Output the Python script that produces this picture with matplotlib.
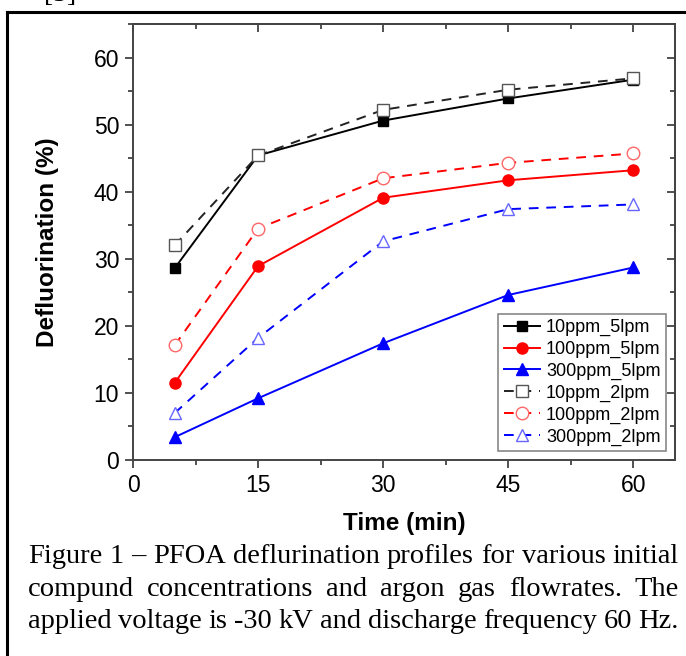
import matplotlib
matplotlib.use('Agg')
import matplotlib.pyplot as plt
from matplotlib.ticker import MultipleLocator
from matplotlib.lines import Line2D

# data
time = [5, 15, 30, 45, 60]
s10_5 = [28.6, 45.4, 50.6, 53.9, 56.7]
s100_5 = [11.5, 28.9, 39.1, 41.7, 43.2]
s300_5 = [3.4, 9.2, 17.4, 24.6, 28.7]
s10_2 = [32.0, 45.4, 52.2, 55.2, 56.9]
s100_2 = [17.1, 34.5, 42.0, 44.3, 45.7]
s300_2 = [7.0, 18.2, 32.6, 37.4, 38.1]
labels = ['10ppm_5lpm', '100ppm_5lpm', '300ppm_5lpm',
          '10ppm_2lpm', '100ppm_2lpm', '300ppm_2lpm']

caption = ['Figure 1 \u2013 PFOA deflurination profiles for various initial',
           'compund concentrations and argon gas flowrates. The',
           'applied voltage is -30 kV and discharge frequency 60 Hz.']

plt.rcParams['font.family'] = ['Liberation Sans', 'DejaVu Sans']

W, H = 686, 656
fig = plt.figure(figsize=(W / 100, H / 100), dpi=100)
ax = fig.add_axes([133 / W, 1 - 460 / H, (675 - 133) / W, (460 - 24) / H])

lw = 1.4
ms = 7
dash = (0, (5, 4))
ax.plot(time, s10_5, '-', color='black', marker='s', ms=ms, lw=lw, label=labels[0])
ax.plot(time, s100_5, '-', color='red', marker='o', ms=ms + 1, lw=lw, label=labels[1])
ax.plot(time, s300_5, '-', color='blue', marker='^', ms=ms + 1, lw=lw, label=labels[2])
ax.plot(time, s10_2, ls=dash, color='#222222', marker='s', ms=ms + 1, lw=lw,
        mfc='white', mec='#555555', mew=1.0, label=labels[3])
ax.plot(time, s100_2, ls=dash, color='red', marker='o', ms=ms + 2, lw=lw,
        mfc='white', mec='#ff6666', mew=1.0, label=labels[4])
ax.plot(time, s300_2, ls=dash, color='blue', marker='^', ms=ms + 2, lw=lw,
        mfc='white', mec='#6666ff', mew=1.0, label=labels[5])

ax.set_xlim(0, 65)
ax.set_ylim(0, 65)
ax.xaxis.set_major_locator(MultipleLocator(15))
ax.xaxis.set_minor_locator(MultipleLocator(7.5))
ax.yaxis.set_major_locator(MultipleLocator(10))
ax.yaxis.set_minor_locator(MultipleLocator(5))
ax.tick_params(which='both', direction='out', labelsize=16.5, width=1.2, color='#333333')
ax.tick_params(which='major', length=6, pad=4)
ax.tick_params(which='minor', length=3.5)
for sp in ax.spines.values():
    sp.set_linewidth(1.4)
    sp.set_color('#444444')

# mirrored ticks on top and right, pointing inward
top = ax.secondary_xaxis('top')
top.xaxis.set_major_locator(MultipleLocator(15))
top.xaxis.set_minor_locator(MultipleLocator(7.5))
top.tick_params(which='both', direction='in', labeltop=False, width=1.2, color='#333333')
top.tick_params(which='major', length=6)
top.tick_params(which='minor', length=3.5)
top.spines['top'].set_linewidth(1.4)
top.spines['top'].set_color('#444444')
right = ax.secondary_yaxis('right')
right.yaxis.set_major_locator(MultipleLocator(10))
right.yaxis.set_minor_locator(MultipleLocator(5))
right.tick_params(which='both', direction='in', labelright=False, width=1.2, color='#333333')
right.tick_params(which='major', length=6)
right.tick_params(which='minor', length=3.5)
right.spines['right'].set_linewidth(1.4)
right.spines['right'].set_color('#444444')

ax.set_xlabel('Time (min)', fontsize=17.5, fontweight='bold')
ax.set_ylabel('Defluorination (%)', fontsize=17.5, fontweight='bold')
ax.xaxis.set_label_coords(0.5, -0.119)
ax.yaxis.set_label_coords(-0.137, 0.5)

leg = ax.legend(loc='lower right', fontsize=13, frameon=True, fancybox=False,
                edgecolor='#888888', framealpha=1, handlelength=2.0,
                handletextpad=0.35, labelspacing=0.26, borderpad=0.3,
                borderaxespad=0.5, numpoints=1)
leg.get_frame().set_linewidth(1.2)

# page border and caption
fig.add_artist(Line2D([7 / W, 7 / W], [1 - 12 / H, -0.05], color='black', lw=2.2))
fig.add_artist(Line2D([7 / W, 1.05], [1 - 12 / H, 1 - 12 / H], color='black', lw=2.2))
fig.text(44 / W, 1 + 6 / H, '[5]', fontsize=20, family='Liberation Serif', va='center')


def justify(line, y, x0, x1):
    r = fig.canvas.get_renderer()
    words = line.split(' ')
    ts = [fig.text(0, y, w, fontsize=20.5, family='Liberation Serif', va='baseline')
          for w in words]
    ws = [t.get_window_extent(r).width for t in ts]
    gap = (x1 - x0 - sum(ws)) / (len(words) - 1)
    x = x0
    for t, w in zip(ts, ws):
        t.set_x(x / W)
        x += w + gap


justify(caption[0], 1 - 563 / H, 28, 679)
justify(caption[1], 1 - 596 / H, 28, 679)
justify(caption[2], 1 - 628 / H, 28, 679)

fig.savefig('out.png', dpi=100)
